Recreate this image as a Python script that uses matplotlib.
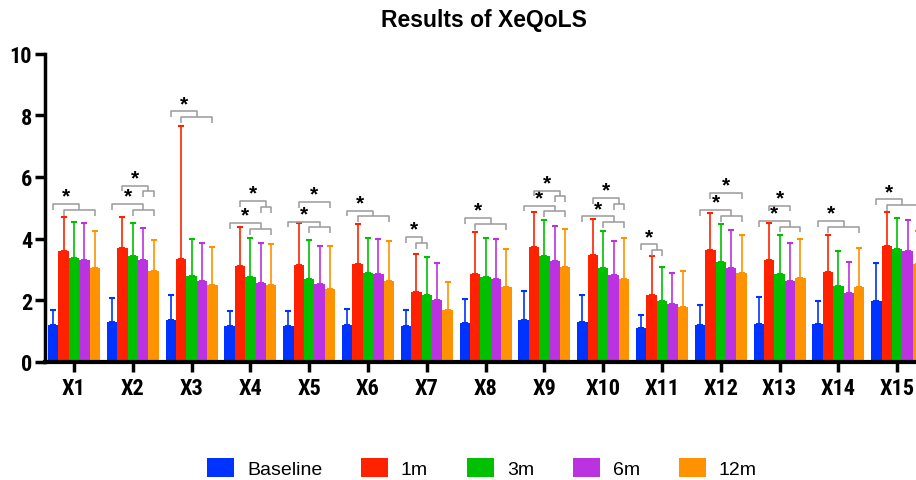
# XeQoLS 結果長條圖（五個時間點，含單側誤差線與顯著性標記）
import numpy as np
import matplotlib.pyplot as plt

# 類別與系列
categories = ["X1", "X2", "X3", "X4", "X5", "X6", "X7", "X8",
              "X9", "X10", "X11", "X12", "X13", "X14", "X15"]
series_names = ["Baseline", "1m", "3m", "6m", "12m"]
colors = ["#0033FF", "#FF2200", "#00C000", "#BB33E0", "#FF9200"]

# 平均值
baseline = [1.19, 1.28, 1.35, 1.15, 1.15, 1.19, 1.15, 1.25, 1.35, 1.30, 1.11, 1.19, 1.24, 1.24, 1.96]
m1 = [3.61, 3.69, 3.34, 3.11, 3.13, 3.16, 2.25, 2.85, 3.74, 3.48, 2.18, 3.63, 3.29, 2.91, 3.76]
m3 = [3.37, 3.43, 2.77, 2.74, 2.70, 2.88, 2.17, 2.74, 3.42, 3.03, 1.97, 3.23, 2.86, 2.47, 3.66]
m6 = [3.30, 3.29, 2.63, 2.57, 2.52, 2.85, 1.99, 2.69, 3.26, 2.82, 1.86, 3.04, 2.62, 2.23, 3.60]
m12 = [3.03, 2.95, 2.48, 2.48, 2.36, 2.62, 1.68, 2.44, 3.08, 2.70, 1.79, 2.88, 2.73, 2.44, 3.17]

# 誤差線頂端（平均值 + SD）
baseline_top = [1.69, 2.06, 2.17, 1.65, 1.65, 1.71, 1.69, 2.02, 2.29, 2.17, 1.52, 1.83, 2.09, 1.97, 3.19]
m1_top = [4.69, 4.71, 7.65, 4.37, 4.49, 4.46, 3.51, 4.20, 4.86, 4.64, 3.42, 4.84, 4.50, 4.10, 4.85]
m3_top = [4.55, 4.51, 3.99, 4.01, 3.94, 4.03, 3.40, 4.03, 4.59, 4.23, 3.09, 4.46, 4.12, 3.58, 4.67]
m6_top = [4.50, 4.34, 3.86, 3.85, 3.77, 3.99, 3.21, 3.97, 4.42, 3.93, 2.89, 4.27, 3.85, 3.23, 4.61]
m12_top = [4.26, 3.94, 3.74, 3.81, 3.75, 3.93, 2.60, 3.65, 4.32, 4.01, 2.95, 4.11, 4.00, 3.69, 4.23]

# 顯著性括號：組別、左端系列、右側子括號起訖系列、頂端高度
br_group = [0, 1, 1, 2, 3, 3, 4, 4, 5, 6, 7, 8, 8, 9, 9, 10, 11, 11, 12, 12, 13, 14]
br_left = [0, 0, 1, 0, 0, 1, 0, 1, 0, 0, 0, 0, 1, 0, 1, 0, 0, 1, 0, 1, 0, 0]
br_start = [1, 2, 3, 1, 2, 3, 2, 4, 1, 1, 1, 2, 3, 2, 3, 1, 2, 4, 2, 3, 1, 1]
br_end = [4, 4, 4, 4, 4, 4, 4, 4, 4, 2, 4, 4, 4, 4, 4, 2, 4, 4, 4, 3, 4, 4]
br_top = [5.12, 5.12, 5.72, 8.13, 4.51, 5.21, 4.55, 5.18, 4.91, 4.05, 4.66,
          5.07, 5.56, 4.72, 5.32, 3.81, 4.93, 5.47, 4.58, 5.07, 4.56, 5.27]

means = [baseline, m1, m3, m6, m12]
tops = [baseline_top, m1_top, m3_top, m6_top, m12_top]

# 窄體粗字（刻度標籤）
narrow = ["Roboto Condensed", "Liberation Sans", "DejaVu Sans"]
regular = ["Liberation Sans", "DejaVu Sans"]

fig = plt.figure(figsize=(9.16, 4.81), dpi=100)
ax = fig.add_axes([0.0486, 0.246, 0.963, 0.640])

x = np.arange(len(categories))
w = 0.177

def bar_x(g, k):
    return x[g] + (k - 2) * w

# 畫長條與單側誤差線
for k in range(5):
    mv = np.array(means[k])
    err = np.array(tops[k]) - mv
    ax.bar(x + (k - 2) * w, mv, width=w, color=colors[k], label=series_names[k],
           yerr=[np.zeros_like(err), err], zorder=2,
           error_kw=dict(ecolor=colors[k], elinewidth=1.2, capsize=2.2, capthick=1.5))

# 顯著性括號
d = 0.19
gray = "#9A9A9A"
for g, L, s, e, top in zip(br_group, br_left, br_start, br_end, br_top):
    xl = bar_x(g, L)
    xs, xe = bar_x(g, s), bar_x(g, e)
    xm = (xs + xe) / 2
    ax.plot([xl, xl, xm, xm], [top - d, top, top, top - d], color=gray, lw=1.1,
            solid_capstyle="butt", zorder=3)
    if s != e:
        ax.plot([xs, xs, xe, xe], [top - 2 * d, top - d, top - d, top - 2 * d],
                color=gray, lw=1.1, solid_capstyle="butt", zorder=3)
    ax.text((xl + xm) / 2, top - 0.05, "*", ha="center", va="bottom",
            fontsize=15, fontweight="bold", color="black", family=regular)

# 座標軸樣式
ax.set_xlim(-0.5, 14.5)
ax.set_ylim(0, 10)
ax.set_yticks([0, 2, 4, 6, 8, 10])
ax.set_xticks(x)
ax.set_xticklabels(categories)
for lab in ax.get_xticklabels() + ax.get_yticklabels():
    lab.set_fontfamily(narrow)
    lab.set_fontweight("bold")
    lab.set_fontsize(16)
ax.tick_params(axis="both", width=2.5, length=7, color="black", pad=2)
ax.tick_params(axis="x", pad=4)
ax.spines["top"].set_visible(False)
ax.spines["right"].set_visible(False)
ax.spines["left"].set_linewidth(2.5)
ax.spines["bottom"].set_linewidth(3)

fig.suptitle("Results of XeQoLS", x=0.5286, y=0.982, fontsize=16.5, fontweight="bold",
             family=regular, va="top")

fig.legend(loc="center", bbox_to_anchor=(0.526, 0.024), ncol=5, frameon=False,
           prop={"family": regular, "size": 14},
           handlelength=1.4, handleheight=1.1, handletextpad=0.65, columnspacing=2.0,
           borderpad=0)

plt.savefig("out.png", dpi=100)
